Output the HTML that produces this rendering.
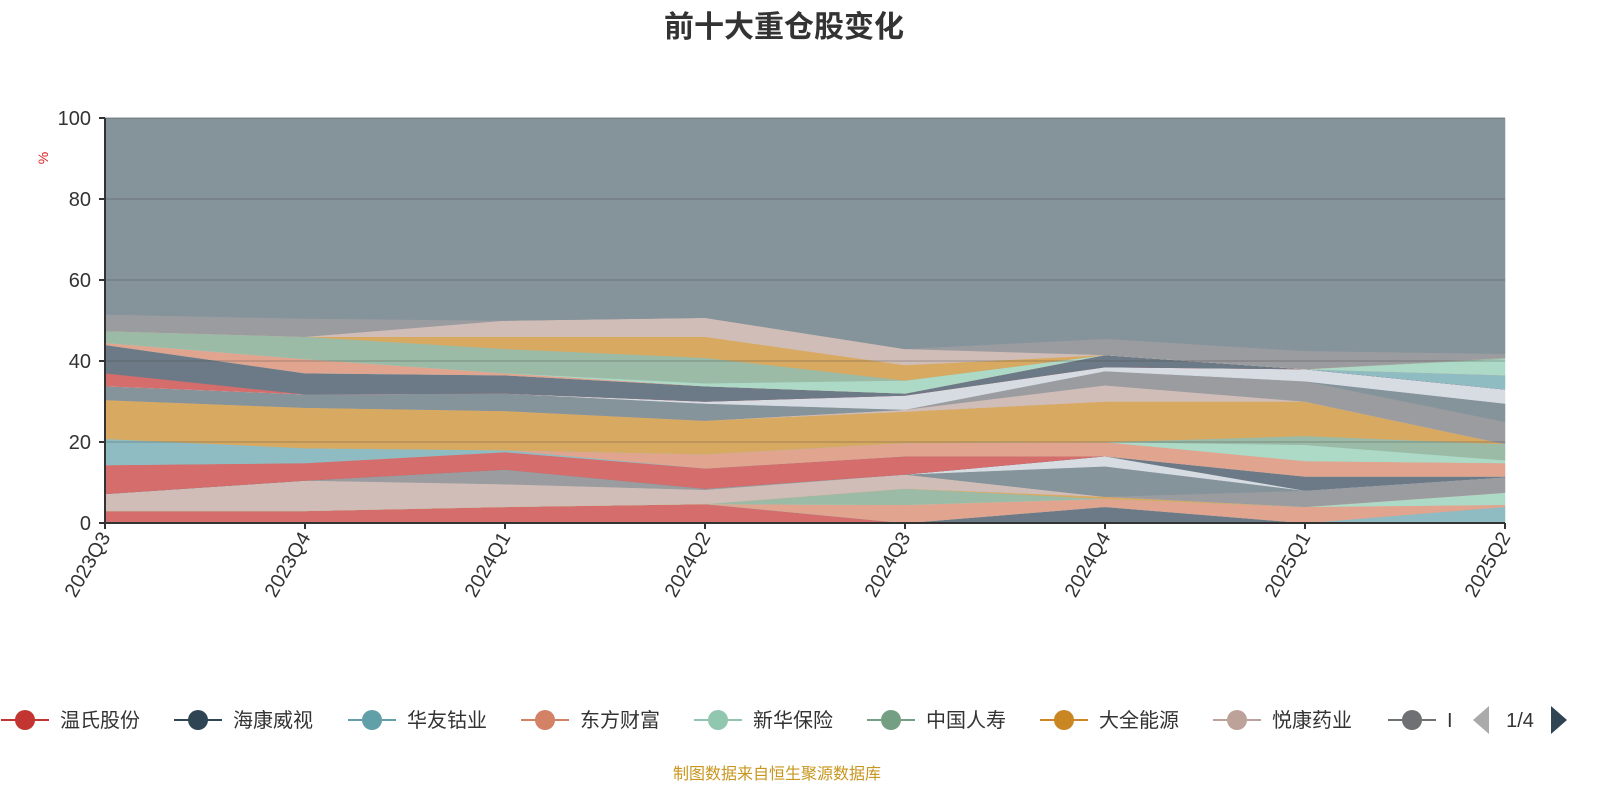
<!DOCTYPE html>
<html><head><meta charset="utf-8"><style>
body{margin:0;background:#fff;width:1600px;height:800px;overflow:hidden;font-family:"Liberation Sans","Noto Sans CJK SC",sans-serif}
</style></head><body>
<svg id="c" width="1600" height="800" xmlns="http://www.w3.org/2000/svg"></svg>
<script>
const categories=["2023Q3","2023Q4","2024Q1","2024Q2","2024Q3","2024Q4","2025Q1","2025Q2"];
const yTicks=[0,20,40,60,80,100];
const seriesColors=["#d46d6b","#6c7a87","#8fbcc2","#e0a48f","#acdac7","#9bbba7","#d8a961","#d0bdb7","#9b9ca0","#85939b","#d7dbe2","#6c7a87","#d46d6b","#8fbcc2","#e0a48f","#acdac7","#9bbba7","#d8a961","#d0bdb7","#9b9ca0","#85939b","#d7dbe2","#d46d6b","#6c7a87","#8fbcc2","#e0a48f","#acdac7","#9bbba7","#d8a961","#d0bdb7","#9b9ca0","#85939b"];
const s01=[3,3,4,4.7,0,0,0,0];
const s02=[0,0,0,0,0,4,0,0];
const s03=[0,0,0,0,0,0,0,4];
const s04=[0,0,0,0,4.5,2,4,0.5];
const s05=[0,0,0,0,0,0,0,3];
const s06=[0,0,0,0,4,0,0,0];
const s07=[0,0,0,0,0,0.5,0,0];
const s08=[4.2,7.5,5.6,3.5,3.5,0,0,0];
const s09=[0,0,3.6,0.3,0,0,4,3.8];
const s10=[0,0,0,0,0,7.5,0,0];
const s11=[0,0,0,0,0,2.5,0,0];
const s12=[0,0,0,0,0,0,3.5,0.2];
const s13=[7.1,4.3,4.3,5,4.5,0,0,0];
const s14=[6.5,3.7,0.5,0,0,0,0,0];
const s15=[0,0,0,3.5,3.3,3.5,3.8,3.3];
const s16=[0,0,0,0,0,0,4,0.7];
const s17=[0,0,0,0,0,0,2.2,4];
const s18=[9.6,10,9.7,8.3,7.7,10,8.5,0];
const s19=[0,0,0,0,0.5,4,0,0];
const s20=[0,0,0,0,0,3.5,5,5.5];
const s21=[3.4,3.3,4.3,4.2,0,0,0,4.5];
const s22=[0,0,0,0.5,3.5,1,3,3.5];
const s23=[3.2,0,0,0,0,0,0,0];
const s24=[7,5.2,4.5,3.8,0.5,3,0,0];
const s25=[0,0,0,0,0,0,0,3.5];
const s26=[0.5,3.5,0.5,0,0,0,0,0];
const s27=[0,0,0,0.7,3.2,0,0,4];
const s28=[2.9,5.5,6,6.3,0,0,0,0.3];
const s29=[0,0,3,5.2,3.8,0,0,0];
const s30=[0,0,4,4.7,4,0,0,0];
const s31=[4.1,4.5,0,0,0,4,4.5,1];
const s32=[48.5,49.5,50,49.3,57,54.5,57.5,58.2];
const allSeries=[s01,s02,s03,s04,s05,s06,s07,s08,s09,s10,s11,s12,s13,s14,s15,s16,s17,s18,s19,s20,s21,s22,s23,s24,s25,s26,s27,s28,s29,s30,s31,s32];
const legendNames=["温氏股份","海康威视","华友钴业","东方财富","新华保险","中国人寿","大全能源","悦康药业","I"];
const legendColors=["#c23531","#2f4554","#61a0a8","#d48265","#91c7ae","#749f83","#ca8622","#bda29a","#6e7074"];

const svg=document.getElementById('c');const NS="http://www.w3.org/2000/svg";
const X0=105,X1=1505,Y0=523,Y1=118;
const xs=i=>X0+(X1-X0)*i/(categories.length-1);
const ys=v=>Y0-(Y0-Y1)*v/100;
function mk(t,a,p){const e=document.createElementNS(NS,t);for(const k in a)e.setAttribute(k,a[k]);(p||svg).appendChild(e);return e;}
let base=categories.map(()=>0);
allSeries.forEach((s,si)=>{
  const top=base.map((b,i)=>b+s[i]);
  let d="M"+top.map((v,i)=>xs(i)+","+ys(v)).join("L");
  for(let i=categories.length-1;i>=0;i--)d+="L"+xs(i)+","+ys(base[i]);
  const p=mk('path',{d:d+"Z",fill:seriesColors[si],stroke:seriesColors[si],'stroke-width':0.5});
  
  
  base=top;
});
yTicks.forEach(v=>{
  if(v>0){const g=mk('line',{x1:X0,x2:X1,y1:ys(v),y2:ys(v),stroke:'rgba(60,60,60,0.18)','stroke-width':2});
  
  }
  const tk=mk('line',{x1:X0-6,x2:X0,y1:ys(v),y2:ys(v),stroke:'#333','stroke-width':2});
  
  
  const t=mk('text',{x:X0-14,y:ys(v)+7,'text-anchor':'end','font-size':20,fill:'#333'});t.textContent=v;
  
  
});
const ya=mk('line',{x1:X0,x2:X0,y1:Y1,y2:Y0,stroke:'#333','stroke-width':2});


const xa=mk('line',{x1:X0,x2:X1,y1:Y0,y2:Y0,stroke:'#333','stroke-width':2});


categories.forEach((c,i)=>{
  const tk=mk('line',{x1:xs(i),x2:xs(i),y1:Y0,y2:Y0+6,stroke:'#333','stroke-width':2});
  
  
  const t=mk('text',{x:xs(i)+6,y:Y0+14,'text-anchor':'end','font-size':20,fill:'#333',transform:`rotate(-60 ${xs(i)+6} ${Y0+14})`});t.textContent=c;
  
  
});
const title=mk('text',{x:784,y:37,'text-anchor':'middle','font-size':30,'font-weight':'bold',fill:'#333'});title.textContent="前十大重仓股变化";


const yt=mk('text',{x:48,y:158,'text-anchor':'middle','font-size':14,fill:'#e02020',transform:'rotate(-90 48 158)'});yt.textContent="%";


const legendX=[25,198,372,545,718,891,1064,1237,1412];
legendNames.forEach((n,i)=>{
  const g=mk('g',{});
  
  
  mk('line',{x1:legendX[i]-24,x2:legendX[i]+24,y1:720,y2:720,stroke:legendColors[i],'stroke-width':2},g);
  mk('circle',{cx:legendX[i],cy:720,r:10,fill:legendColors[i]},g);
  const t=mk('text',{x:legendX[i]+35,y:727,'font-size':20,fill:'#333'},g);t.textContent=n;
});
const pl=mk('path',{d:'M1489,706L1489,734L1473,720Z',fill:'#aaa'});


const pt=mk('text',{x:1520,y:727,'text-anchor':'middle','font-size':20,fill:'#333'});pt.textContent="1/4";


const pr=mk('path',{d:'M1551,706L1551,734L1567,720Z',fill:'#2f4554'});


const ft=mk('text',{x:777,y:779,'text-anchor':'middle','font-size':16,fill:'#c8961e'});ft.textContent="制图数据来自恒生聚源数据库";


</script>
</body></html>
